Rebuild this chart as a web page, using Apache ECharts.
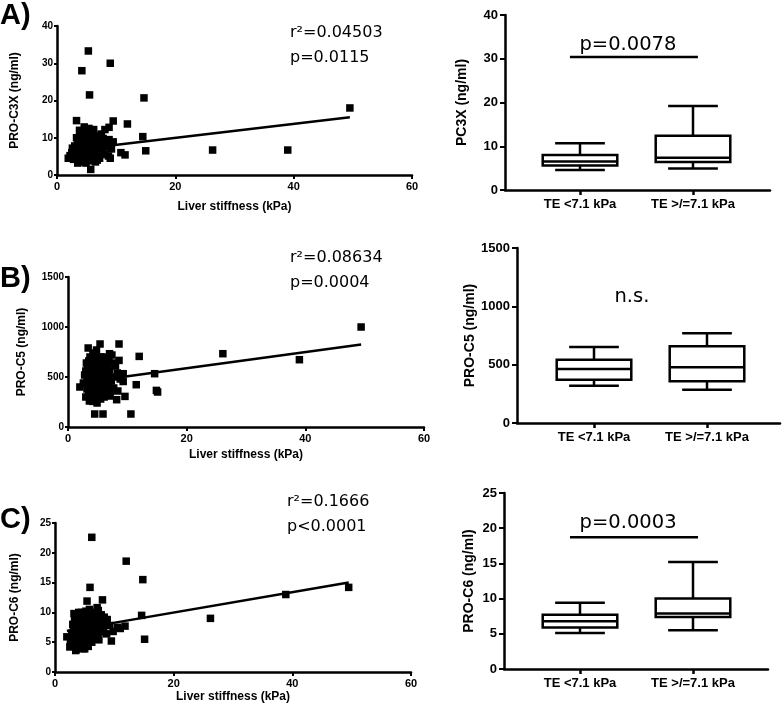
<!DOCTYPE html>
<html><head><meta charset="utf-8">
<script src="https://cdn.jsdelivr.net/npm/echarts@6/dist/echarts.min.js"></script>
<style>html,body{margin:0;padding:0;background:#fff}#c{width:784px;height:712px}</style>
</head><body><div id="c"></div>
<script>
// ---------- data ----------
const xTitle = 'Liver stiffness (kPa)';
const boxCategories = ['TE <7.1 kPa', 'TE >/=7.1 kPa'];

const scatterA = [[5.3,33.3],[4.2,28.0],[9.0,30.0],[5.5,21.5],[14.7,20.7],[49.5,18.0],[26.3,6.7],[39.0,6.7],[15.0,6.5],[14.5,10.3],[11.9,13.7],[11.5,5.4],[10.8,6.0],[9.5,14.5],[3.3,14.6],[4.6,12.9],[8.1,12.2],[8.8,12.8],[5.7,1.5],[1.9,4.5],[9.5,8.9],[8.7,5.1],[9.0,4.5],[7.5,11.0],[6.8,9.8],[6.2,12.2],[5.0,11.8],[4.0,11.2],[3.0,7.8],[2.5,6.0],[2.8,4.2],[3.5,3.2],[4.2,3.5],[5.0,4.0],[6.0,3.8],[6.5,3.5],[7.2,4.5],[8.0,5.5],[3.8,5.0],[4.5,5.5],[5.2,5.8],[6.0,6.0],[6.8,6.2],[7.5,6.5],[3.2,6.5],[4.0,7.0],[4.8,7.2],[5.5,7.5],[6.2,7.5],[7.0,7.8],[8.2,8.0],[3.5,8.5],[4.3,8.8],[5.0,9.0],[5.8,9.2],[6.5,8.5],[7.3,9.0],[4.0,9.8],[4.8,10.2],[5.5,10.5],[6.2,10.8],[3.3,10.0],[5.2,6.5],[4.6,6.2],[5.9,8.2],[6.6,10.0],[7.8,9.8],[3.6,4.2],[4.4,4.6],[5.6,5.0],[6.3,5.2],[7.0,5.5],[2.2,5.2],[3.0,5.5],[8.5,7.5],[9.2,7.0],[8.8,9.5],[5.4,12.5],[4.9,3.2],[6.8,4.0],[7.7,7.2],[3.9,6.0],[4.1,7.8],[5.7,6.8],[6.4,6.8],[2.6,7.2],[5.1,8.4],[4.5,9.4],[6.0,11.5],[7.1,10.5],[3.8,12.0]];
const fitA = [[1.9,6.6],[49.5,15.5]];

const scatterB = [[2.0,400],[3.4,790],[5.4,830],[8.6,830],[12.0,706],[4.5,130],[5.9,130],[10.6,130],[14.6,533],[14.9,366],[15.1,350],[11.5,423],[9.6,306],[8.2,273],[4.2,256],[9.3,533],[9.3,455],[8.6,666],[7.0,733],[7.4,720],[26.1,733],[39.0,673],[49.4,1000],[3.0,300],[3.5,330],[3.8,360],[4.0,400],[4.5,420],[5.0,450],[3.2,470],[3.6,500],[4.1,520],[4.6,540],[5.2,560],[5.8,580],[3.3,600],[3.9,620],[4.4,650],[4.9,680],[5.5,700],[6.0,620],[6.5,600],[7.0,570],[3.1,640],[3.7,700],[4.2,740],[4.8,770],[5.1,310],[5.6,340],[6.2,380],[6.8,420],[7.3,460],[7.8,500],[8.3,540],[4.3,580],[4.7,470],[5.3,510],[5.9,480],[6.4,520],[6.9,660],[3.4,430],[3.9,560],[4.4,350],[5.0,390],[5.5,280],[6.1,300],[6.6,330],[7.2,360],[7.7,390],[8.0,610],[4.0,680],[4.6,720],[5.3,650],[5.7,420],[6.3,450],[6.7,490],[2.8,520],[3.2,380],[3.8,280],[4.9,240],[5.4,600],[6.0,700],[6.4,680],[7.5,640],[8.8,480],[3.5,660],[4.2,460],[4.7,610],[5.2,420],[5.8,530],[6.8,550],[3.0,560],[3.6,260],[7.1,310],[8.4,360],[2.6,440],[4.1,300]];
const fitB = [[2.0,443],[49.4,826]];

const scatterC = [[6.2,22.6],[12.0,18.6],[14.8,15.5],[14.6,9.5],[15.1,5.5],[26.2,9.0],[38.9,13.0],[49.5,14.2],[5.9,14.2],[5.4,11.9],[8.0,12.1],[7.1,10.8],[8.3,9.2],[11.8,7.7],[9.5,5.2],[7.4,5.4],[2.0,5.9],[2.5,4.2],[3.5,3.6],[5.0,3.9],[8.8,8.8],[10.5,7.5],[9.8,6.8],[11.0,7.3],[9.2,7.8],[3.0,5.0],[3.3,6.0],[3.6,7.0],[3.9,8.0],[4.2,9.0],[4.5,10.0],[3.2,9.8],[3.8,9.5],[4.8,9.7],[5.2,10.2],[5.6,9.4],[6.0,9.8],[6.4,8.8],[6.9,8.2],[7.4,7.6],[8.0,7.0],[3.4,4.5],[4.0,4.2],[4.6,4.8],[5.2,5.2],[5.8,5.6],[6.3,6.0],[6.8,6.5],[7.2,5.8],[3.5,8.5],[4.1,7.5],[4.7,6.5],[5.3,6.8],[5.9,7.2],[6.5,7.6],[7.0,9.2],[7.6,8.8],[4.3,5.6],[4.9,7.8],[5.5,8.2],[6.1,8.6],[3.1,7.2],[3.7,6.2],[4.4,6.8],[5.0,6.0],[5.7,7.9],[6.2,5.0],[6.7,7.0],[7.8,9.6],[8.5,8.0],[4.0,10.0],[5.1,4.5],[2.8,6.5],[3.9,5.3],[4.6,8.6],[5.4,9.0],[6.0,6.4],[6.6,9.4],[7.3,10.3],[8.2,7.4],[4.8,3.9],[5.6,4.3],[3.6,3.8],[4.2,8.1],[5.8,10.5],[6.4,10.0],[7.0,7.3],[8.7,6.4],[3.3,8.7],[4.5,7.3],[5.2,8.6],[6.8,5.5],[7.5,6.7],[2.6,5.3],[3.0,8.0]];
const fitC = [[2.0,6.9],[49.5,15.0]];

// box: [min, Q1, median, Q3, max]
const boxA = [[4.6,5.6,6.5,8.0,10.7],[4.9,6.4,7.4,12.4,19.2]];
const boxB = [[320,371,463,543,651],[286,357,477,657,769]];
const boxC = [[5.1,5.9,6.8,7.7,9.4],[5.5,7.4,7.9,10.0,15.2]];

// ---------- chart ----------
const FONT = "'Liberation Sans', Arial, sans-serif";
const ANN = "'DejaVu Sans', sans-serif";
const grids = [], xAxes = [], yAxes = [], series = [], titles = [];
const axLine = {show:true, onZero:false, lineStyle:{color:'#000', width:2.5}};
const plain = v => String(v);

function scatterPanel(g, ymax, yint, yname, ynameGap, xnameGap, pts, fit) {
  const gi = grids.length;
  grids.push({left:g[0], top:g[1], width:g[2], height:g[3], containLabel:false});
  xAxes.push({type:'value', gridIndex:gi, min:0, max:60, interval:20, axisLine:axLine,
    axisTick:{show:true, length:4, lineStyle:{color:'#000', width:2}},
    axisLabel:{color:'#000', fontWeight:'bold', fontSize:11, fontFamily:FONT, margin:6, formatter:plain},
    splitLine:{show:false}, name:xTitle, nameLocation:'middle', nameGap:xnameGap,
    nameTextStyle:{color:'#000', fontWeight:'bold', fontSize:12, fontFamily:FONT}});
  yAxes.push({type:'value', gridIndex:gi, min:0, max:ymax, interval:yint, axisLine:axLine,
    axisTick:{show:true, length:3, lineStyle:{color:'#000', width:2}},
    axisLabel:{color:'#000', fontWeight:'bold', fontSize:10, fontFamily:FONT, margin:4, formatter:plain},
    splitLine:{show:false}, name:yname, nameLocation:'middle', nameGap:ynameGap, nameRotate:90,
    nameTextStyle:{color:'#000', fontWeight:'bold', fontSize:12, fontFamily:FONT}});
  series.push({type:'line', xAxisIndex:gi, yAxisIndex:gi, data:fit, symbol:'none', silent:true,
    lineStyle:{color:'#000', width:2.5}, z:2});
  series.push({type:'scatter', xAxisIndex:gi, yAxisIndex:gi, data:pts, symbol:'rect', symbolSize:7.5,
    itemStyle:{color:'#000', opacity:1}, z:3});
}

function boxRender(params, api) {
  const i = api.value(0);
  const pMin = api.coord([i, api.value(1)]);
  const pQ1 = api.coord([i, api.value(2)]);
  const pMed = api.coord([i, api.value(3)]);
  const pQ3 = api.coord([i, api.value(4)]);
  const pMax = api.coord([i, api.value(5)]);
  const band = api.size([1, 0])[0];
  const cx = pMed[0], hw = band * 0.33, cw = band * 0.22;
  const st = {stroke:'#000', lineWidth:2.5, fill:null};
  return {type:'group', children:[
    {type:'line', shape:{x1:cx, y1:pMax[1], x2:cx, y2:pQ3[1]}, style:st},
    {type:'line', shape:{x1:cx-cw, y1:pMax[1], x2:cx+cw, y2:pMax[1]}, style:st},
    {type:'line', shape:{x1:cx, y1:pQ1[1], x2:cx, y2:pMin[1]}, style:st},
    {type:'line', shape:{x1:cx-cw, y1:pMin[1], x2:cx+cw, y2:pMin[1]}, style:st},
    {type:'rect', shape:{x:cx-hw, y:pQ3[1], width:2*hw, height:pQ1[1]-pQ3[1]}, style:{stroke:'#000', lineWidth:2.5, fill:'#fff'}},
    {type:'line', shape:{x1:cx-hw, y1:pMed[1], x2:cx+hw, y2:pMed[1]}, style:st}
  ]};
}

function boxPanel(g, innerOff, ymax, yint, yname, ynameGap, box, sig, txt) {
  const go = grids.length;
  grids.push({left:g[0], top:g[1], width:g[2], height:g[3]});
  xAxes.push({type:'value', gridIndex:go, min:0, max:100, axisLine:axLine, axisTick:{show:false},
    axisLabel:{show:false}, splitLine:{show:false}});
  yAxes.push({type:'value', gridIndex:go, min:0, max:ymax, interval:yint, axisLine:axLine,
    axisTick:{show:true, length:5, lineStyle:{color:'#000', width:2}},
    axisLabel:{color:'#000', fontWeight:'bold', fontSize:13, fontFamily:FONT, margin:7, formatter:plain},
    splitLine:{show:false}, name:yname, nameLocation:'middle', nameGap:ynameGap, nameRotate:90,
    nameTextStyle:{color:'#000', fontWeight:'bold', fontSize:14, fontFamily:FONT}});
  const gin = grids.length;
  grids.push({left:g[0] + innerOff, top:g[1], width:226, height:g[3]});
  xAxes.push({type:'category', gridIndex:gin, data:boxCategories, boundaryGap:true,
    axisLine:{show:false}, axisTick:{show:true, alignWithLabel:true, length:5, lineStyle:{color:'#000', width:2.5}},
    axisLabel:{color:'#000', fontWeight:'bold', fontSize:13, fontFamily:FONT, margin:8, interval:0}});
  yAxes.push({type:'value', gridIndex:gin, min:0, max:ymax, show:false});
  series.push({type:'custom', xAxisIndex:gin, yAxisIndex:gin, renderItem:boxRender,
    data: box.map((d, i) => [i].concat(d)), encode:{x:0, y:[1,2,3,4,5]}, z:3, silent:true});
  if (sig) {
    series.push({type:'line', xAxisIndex:go, yAxisIndex:go, data:sig, symbol:'none', silent:true,
      lineStyle:{color:'#000', width:2.5}});
  }
  series.push({type:'scatter', xAxisIndex:go, yAxisIndex:go, data:[txt.pos], symbolSize:0.1, silent:true,
    itemStyle:{color:'transparent', opacity:1},
    label:{show:true, position:'inside', formatter:txt.text, color:'#000', opacity:1, fontSize:19.5, fontFamily:ANN}});
}

scatterPanel([57, 26, 355, 149], 40, 10, 'PRO-C3X (ng/ml)', 36, 26, scatterA, fitA);
scatterPanel([68, 277, 356, 150], 1500, 500, 'PRO-C5 (ng/ml)', 40, 22, scatterB, fitB);
scatterPanel([55, 523, 356, 149], 25, 5, 'PRO-C6 (ng/ml)', 34, 19, scatterC, fitC);

boxPanel([505, 15, 265, 175], 18.5, 40, 10, 'PC3X (ng/ml)', 36, boxA,
  [[24.5, 30.4], [72.8, 30.4]], {pos:[46.4, 33.1], text:'p=0.0078'});
boxPanel([517, 248, 263, 175], 20.5, 1500, 500, 'PRO-C5 (ng/ml)', 39, boxB,
  null, {pos:[43.7, 1083], text:'n.s.'});
boxPanel([504, 493, 264, 176], 19.5, 25, 5, 'PRO-C6 (ng/ml)', 28, boxC,
  [[25, 18.7], [73.5, 18.7]], {pos:[47, 20.7], text:'p=0.0003'});

const panelStyle = {color:'#000', fontSize:29, fontWeight:'bold', fontFamily:FONT};
const statStyle = {color:'#000', fontSize:16, fontWeight:'normal', fontFamily:ANN, lineHeight:25};
titles.push({text:'A)', left:0, top:1, padding:0, textStyle:panelStyle});
titles.push({text:'B)', left:0, top:264, padding:0, textStyle:panelStyle});
titles.push({text:'C)', left:0, top:505, padding:0, textStyle:panelStyle});
titles.push({text:'r²=0.04503\np=0.0115', left:290, top:20, padding:0, textStyle:statStyle});
titles.push({text:'r²=0.08634\np=0.0004', left:290, top:245, padding:0, textStyle:statStyle});
titles.push({text:'r²=0.1666\np<0.0001', left:287, top:489, padding:0, textStyle:statStyle});

const chart = echarts.init(document.getElementById('c'), null, {renderer:'canvas'});
chart.setOption({
  backgroundColor:'#fff', animation:false,
  title:titles, grid:grids, xAxis:xAxes, yAxis:yAxes, series:series
});
</script></body></html>
